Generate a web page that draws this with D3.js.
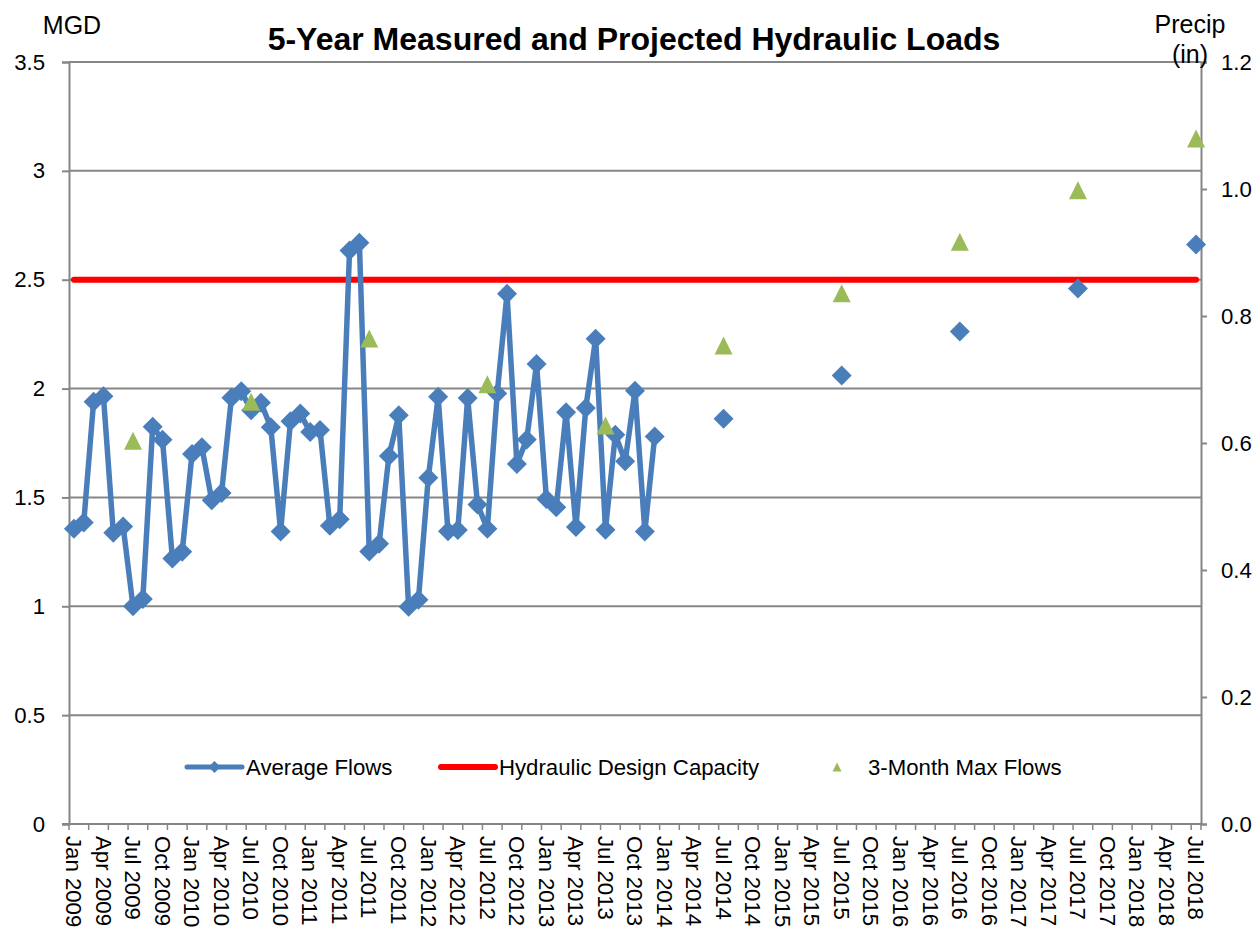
<!DOCTYPE html>
<html>
<head>
<meta charset="utf-8">
<script src="https://cdn.jsdelivr.net/npm/d3@7"></script>
<style>
  html, body { margin: 0; padding: 0; background: #fff; }
  svg { display: block; font-family: "Liberation Sans", Arial, sans-serif; }
</style>
</head>
<body>
<svg id="chart" width="1259" height="936"></svg>
<script>
// ---------- DATA ----------
const monthNames = ["Jan","Feb","Mar","Apr","May","Jun","Jul","Aug","Sep","Oct","Nov","Dec"];
const years = [2009, 2010, 2011, 2012, 2013, 2014, 2015, 2016, 2017, 2018];
const lastCategory = "Jul 2018";

// Measured average flows (MGD), monthly Jan 2009 .. Dec 2013
const measuredFlows = [
  1.356, 1.385, 1.94, 1.965, 1.338, 1.367, 1.00, 1.034, 1.825, 1.765, 1.22, 1.25,
  1.70, 1.73, 1.487, 1.52, 1.958, 1.988, 1.90, 1.935, 1.822, 1.344, 1.85, 1.885,
  1.80, 1.81, 1.37, 1.40, 2.634, 2.67, 1.252, 1.287, 1.69, 1.877, 0.998, 1.03,
  1.59, 1.962, 1.345, 1.35, 1.957, 1.467, 1.356, 1.977, 2.435, 1.654, 1.766, 2.113,
  1.493, 1.455, 1.891, 1.364, 1.911, 2.229, 1.352, 1.788, 1.666, 1.99, 1.344, 1.78
];
// Projected average flows
const projectedMonths = ["Jul 2014", "Jul 2015", "Jul 2016", "Jul 2017", "Jul 2018"];
const projectedFlows  = [1.861, 2.06, 2.262, 2.46, 2.662];

// 3-Month max flows
const maxFlowMonths = ["Jul 2009", "Jul 2010", "Jul 2011", "Jul 2012", "Jul 2013",
                       "Jul 2014", "Jul 2015", "Jul 2016", "Jul 2017", "Jul 2018"];
const maxFlows = [1.76, 1.94, 2.23, 2.02, 1.83, 2.198, 2.438, 2.674, 2.911, 3.149];

// Hydraulic design capacity (MGD)
const designCapacity = 2.5;

// Axis ticks
const leftTicks = [0, 0.5, 1, 1.5, 2, 2.5, 3, 3.5];
const leftTickLabels = ["0", "0.5", "1", "1.5", "2", "2.5", "3", "3.5"];
const rightTicks = [0, 0.2, 0.4, 0.6, 0.8, 1.0, 1.2];
const rightTickLabels = ["0.0", "0.2", "0.4", "0.6", "0.8", "1.0", "1.2"];
const xTickLabels = [
  "Jan 2009","Apr 2009","Jul 2009","Oct 2009","Jan 2010","Apr 2010","Jul 2010","Oct 2010",
  "Jan 2011","Apr 2011","Jul 2011","Oct 2011","Jan 2012","Apr 2012","Jul 2012","Oct 2012",
  "Jan 2013","Apr 2013","Jul 2013","Oct 2013","Jan 2014","Apr 2014","Jul 2014","Oct 2014",
  "Jan 2015","Apr 2015","Jul 2015","Oct 2015","Jan 2016","Apr 2016","Jul 2016","Oct 2016",
  "Jan 2017","Apr 2017","Jul 2017","Oct 2017","Jan 2018","Apr 2018","Jul 2018"
];

// Build monthly categories Jan 2009 .. Jul 2018
const categories = [];
outer: for (const yr of years) {
  for (const m of monthNames) {
    const c = m + " " + yr;
    categories.push(c);
    if (c === lastCategory) break outer;
  }
}

// ---------- LAYOUT ----------
const svg = d3.select("#chart");
const plotLeft = 69, plotRight = 1201, plotTop = 62, plotBottom = 824;
const fontSize = 22.2;
const gridColor = "#868686";
const blue = "#4A7EBB", green = "#9BBB59", red = "#FF0000";

const x = d3.scaleBand().domain(categories).range([plotLeft, plotRight]).padding(0);
const cx = c => x(c) + x.bandwidth() / 2;
const y = d3.scaleLinear().domain([0, 3.5]).range([plotBottom, plotTop]);
const yR = d3.scaleLinear().domain([0, 1.2]).range([plotBottom, plotTop]);

// Gridlines
svg.append("g").selectAll("line").data(leftTicks.filter(d => d > 0)).join("line")
  .attr("x1", plotLeft).attr("x2", plotRight)
  .attr("y1", d => y(d)).attr("y2", d => y(d))
  .attr("stroke", gridColor).attr("stroke-width", 2);

// Left axis
const leftAxis = d3.axisLeft(y).tickValues(leftTicks).tickSize(7).tickPadding(17)
  .tickFormat((d, i) => leftTickLabels[i]);
const gL = svg.append("g").attr("transform", `translate(${plotLeft},0)`).call(leftAxis);
gL.select(".domain").attr("stroke", gridColor).attr("stroke-width", 2);
gL.selectAll(".tick line").attr("stroke", gridColor).attr("stroke-width", 2);
gL.selectAll(".tick text").attr("font-size", fontSize).attr("fill", "#000")
  .attr("font-family", "Liberation Sans, Arial, sans-serif");

// Right axis
const rightAxis = d3.axisRight(yR).tickValues(rightTicks).tickSize(6).tickPadding(14)
  .tickFormat((d, i) => rightTickLabels[i]);
const gR = svg.append("g").attr("transform", `translate(${plotRight},0)`).call(rightAxis);
gR.select(".domain").attr("stroke", gridColor).attr("stroke-width", 2);
gR.selectAll(".tick line").attr("stroke", gridColor).attr("stroke-width", 2);
gR.selectAll(".tick text").attr("font-size", fontSize).attr("fill", "#000")
  .attr("font-family", "Liberation Sans, Arial, sans-serif");

// Bottom axis
svg.append("line").attr("x1", plotLeft - 7).attr("x2", plotRight)
  .attr("y1", plotBottom).attr("y2", plotBottom)
  .attr("stroke", gridColor).attr("stroke-width", 2);
const xTickCats = categories.filter((c, i) => i % 2 === 0);
svg.append("g").selectAll("line").data(xTickCats).join("line")
  .attr("x1", d => x(d)).attr("x2", d => x(d))
  .attr("y1", plotBottom).attr("y2", plotBottom + 6)
  .attr("stroke", gridColor).attr("stroke-width", 1.5);
svg.append("line").attr("x1", plotRight).attr("x2", plotRight)
  .attr("y1", plotBottom).attr("y2", plotBottom + 6)
  .attr("stroke", gridColor).attr("stroke-width", 1.5);
svg.append("g").selectAll("text").data(xTickLabels).join("text")
  .attr("transform", d => `translate(${cx(d)},${plotBottom + 12}) rotate(90)`)
  .attr("dy", "0.35em")
  .attr("text-anchor", "start")
  .attr("font-size", fontSize)
  .attr("fill", "#000")
  .text(d => d);

// Hydraulic design capacity line
svg.append("line")
  .attr("x1", cx(categories[0])).attr("x2", cx(categories[categories.length - 1]))
  .attr("y1", y(designCapacity)).attr("y2", y(designCapacity))
  .attr("stroke", red).attr("stroke-width", 6).attr("stroke-linecap", "round");

// Average flows series (measured + projected, gaps between)
const avgSeries = categories.map((c, i) => {
  let v = null;
  if (i < measuredFlows.length) v = measuredFlows[i];
  const pi = projectedMonths.indexOf(c);
  if (pi >= 0) v = projectedFlows[pi];
  return { c, v };
});
const line = d3.line().defined(d => d.v !== null)
  .x(d => cx(d.c)).y(d => y(d.v));
svg.append("path").datum(avgSeries)
  .attr("d", line)
  .attr("fill", "none").attr("stroke", blue).attr("stroke-width", 5.5)
  .attr("stroke-linejoin", "round").attr("stroke-linecap", "round");

const diamond = r => `M0,${-r}L${r},0L0,${r}L${-r},0Z`;
svg.append("g").selectAll("path").data(avgSeries.filter(d => d.v !== null)).join("path")
  .attr("transform", d => `translate(${cx(d.c)},${y(d.v)})`)
  .attr("d", diamond(10))
  .attr("fill", blue);

// 3-Month max flows
const tri = (w, h) => `M0,${-h / 2}L${w / 2},${h / 2}L${-w / 2},${h / 2}Z`;
svg.append("g").selectAll("path").data(maxFlowMonths.map((m, i) => ({ c: m, v: maxFlows[i] }))).join("path")
  .attr("transform", d => `translate(${cx(d.c)},${y(d.v)})`)
  .attr("d", tri(18, 18))
  .attr("fill", green);

// ---------- LEGEND ----------
const ly = 767;
const legend = svg.append("g");
legend.append("line").attr("x1", 187).attr("x2", 242).attr("y1", ly).attr("y2", ly)
  .attr("stroke", blue).attr("stroke-width", 5).attr("stroke-linecap", "round");
legend.append("path").attr("transform", `translate(214.5,${ly})`).attr("d", diamond(6)).attr("fill", blue);
legend.append("text").attr("x", 246).attr("y", ly).attr("dy", "0.35em")
  .attr("font-size", fontSize).text("Average Flows");
legend.append("line").attr("x1", 441).attr("x2", 495).attr("y1", ly).attr("y2", ly)
  .attr("stroke", red).attr("stroke-width", 6).attr("stroke-linecap", "round");
legend.append("text").attr("x", 499).attr("y", ly).attr("dy", "0.35em")
  .attr("font-size", fontSize).text("Hydraulic Design Capacity");
legend.append("path").attr("transform", `translate(837,${ly})`).attr("d", tri(9, 9)).attr("fill", green);
legend.append("text").attr("x", 868).attr("y", ly).attr("dy", "0.35em")
  .attr("font-size", fontSize).text("3-Month Max Flows");

// ---------- TITLES ----------
svg.append("text").attr("x", 634).attr("y", 50).attr("text-anchor", "middle")
  .attr("font-size", 32).attr("font-weight", "bold")
  .text("5-Year Measured and Projected Hydraulic Loads");
svg.append("text").attr("x", 72).attr("y", 34).attr("text-anchor", "middle")
  .attr("font-size", 25).text("MGD");
svg.append("text").attr("x", 1190).attr("y", 33).attr("text-anchor", "middle")
  .attr("font-size", 25).text("Precip");
svg.append("text").attr("x", 1190).attr("y", 63).attr("text-anchor", "middle")
  .attr("font-size", 25).text("(in)");
</script>
</body>
</html>
